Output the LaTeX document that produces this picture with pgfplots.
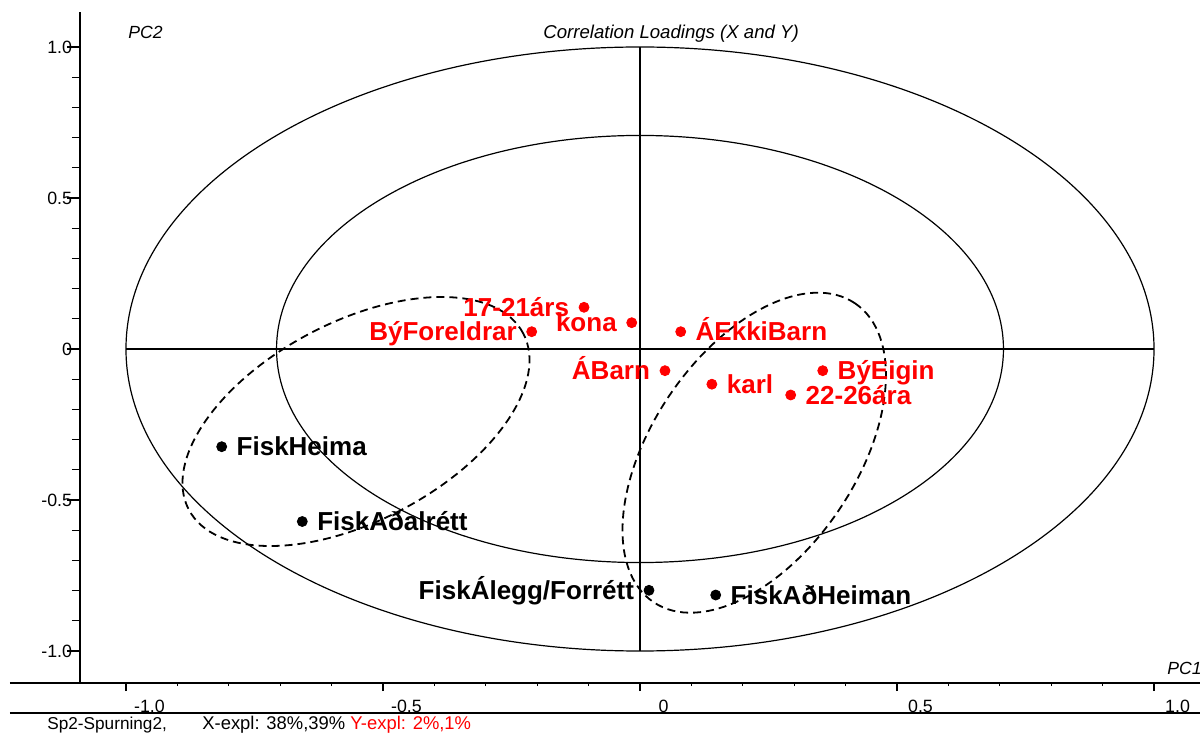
\documentclass[border=0pt]{standalone}
\usepackage{fontspec}
\setmainfont{Liberation Sans}
\usepackage{pgfplots}
\pgfplotsset{compat=1.18}
\definecolor{plsred}{RGB}{255,0,0}

\begin{document}
\begin{tikzpicture}
\begin{axis}[
    scale only axis,
    width=560pt, height=335.5pt,
    xmin=-1.0895, xmax=1.0895,
    ymin=-1.106, ymax=1.1159,
    axis x line*=bottom, axis y line*=left,
    axis line style={line width=0.7pt},
    clip=false,
    xtick={-1,-0.5,0,0.5,1}, xticklabels={-1.0,-0.5,0,0.5,1.0},
    ytick={-1,-0.5,0,0.5,1}, yticklabels={-1.0,-0.5,0,0.5,1.0},
    minor xtick={-0.9,-0.8,-0.7,-0.6,-0.4,-0.3,-0.2,-0.1,0.1,0.2,0.3,0.4,0.6,0.7,0.8,0.9},
    minor ytick={-0.9,-0.8,-0.7,-0.6,-0.4,-0.3,-0.2,-0.1,0.1,0.2,0.3,0.4,0.6,0.7,0.8,0.9},
    tick align=outside,
    tick style={line width=0.6pt, black},
    xtick style={/pgfplots/major tick length=4pt, /pgfplots/minor tick length=1.5pt},
    ytick style={/pgfplots/major tick length=6.5pt, /pgfplots/minor tick length=4pt},
    tick label style={font=\fontsize{8.9}{10}\selectfont, inner sep=0pt},
    xticklabel style={anchor=north, xshift=11.75pt, yshift=-4pt},
    yticklabel style={anchor=east, xshift=0.5pt},
]
% reference circles and zero lines
\draw[line width=0.6pt] (axis cs:0,0) ellipse [x radius=1, y radius=1];
\draw[line width=0.6pt] (axis cs:0,0) ellipse [x radius=0.7071, y radius=0.7071];
\draw[line width=0.6pt] (axis cs:-1,0) -- (axis cs:1,0);
\draw[line width=0.6pt] (axis cs:0,-1) -- (axis cs:0,1);

% dashed group ellipses
\draw[line width=0.9pt, dash pattern=on 4pt off 2.5pt,
      rotate around={27.8:(axis cs:-0.5525,-0.2401)}]
  (axis cs:-0.5525,-0.2401) ellipse [x radius=94.5pt, y radius=49.7pt];
\draw[line width=0.9pt, dash pattern=on 4pt off 2.5pt,
      rotate around={56.0:(axis cs:0.2222,-0.3434)}]
  (axis cs:0.2222,-0.3434) ellipse [x radius=90.1pt, y radius=51.15pt];

% Y variables, label on the left
\addplot[only marks, mark=*, mark size=2.5pt, color=plsred,
  nodes near coords, point meta=explicit symbolic,
  every node near coord/.style={anchor=base east, xshift=-7.3pt, yshift=-4.65pt,
    inner sep=0pt, font=\fontsize{13}{15}\selectfont\bfseries, text=plsred}]
  coordinates {
    (-0.1089,0.1381) [17-21árs]
    (-0.0161,0.0871) [kona]
    (-0.2107,0.0573) [BýForeldrar]
    (0.0486,-0.0718) [ÁBarn]
};
% Y variables, label on the right
\addplot[only marks, mark=*, mark size=2.5pt, color=plsred,
  nodes near coords, point meta=explicit symbolic,
  every node near coord/.style={anchor=base west, xshift=7.3pt, yshift=-4.65pt,
    inner sep=0pt, font=\fontsize{13}{15}\selectfont\bfseries, text=plsred}]
  coordinates {
    (0.0792,0.0573) [ÁEkkiBarn]
    (0.1398,-0.1166) [karl]
    (0.3555,-0.0718) [BýEigin]
    (0.2932,-0.1523) [22-26ára]
};
% X variables
\addplot[only marks, mark=*, mark size=2.5pt, color=black,
  nodes near coords, point meta=explicit symbolic,
  every node near coord/.style={anchor=base west, xshift=7.3pt, yshift=-4.65pt,
    inner sep=0pt, font=\fontsize{13}{15}\selectfont\bfseries, text=black}]
  coordinates {
    (-0.8138,-0.3235) [FiskHeima]
    (-0.6570,-0.5712) [FiskAðalrétt]
    (0.1473,-0.8146) [FiskAðHeiman]
};
\addplot[only marks, mark=*, mark size=2.5pt, color=black,
  nodes near coords, point meta=explicit symbolic,
  every node near coord/.style={anchor=base east, xshift=-7.3pt, yshift=-4.65pt,
    inner sep=0pt, font=\fontsize{13}{15}\selectfont\bfseries, text=black}]
  coordinates {
    (0.0175,-0.7990) [FiskÁlegg/Forrétt]
};

% frame extras and captions
\draw[line width=0.7pt] (axis cs:-1.2257,-1.106) -- (axis cs:-1.0895,-1.106);
\draw[line width=0.9pt] (axis cs:-1.2257,-1.2053) -- (axis cs:1.0895,-1.2053);
\node[anchor=base west, inner sep=0pt, font=\fontsize{9.3}{11}\selectfont\itshape]
  at (axis cs:-0.1887,1.0288) {Correlation Loadings (X and Y)};
\node[anchor=base west, inner sep=0pt, font=\fontsize{8.8}{10}\selectfont\itshape]
  at (axis cs:-0.9961,1.0265) {PC2};
\node[anchor=base west, inner sep=0pt, font=\fontsize{8.8}{10}\selectfont\itshape]
  at (axis cs:1.0253,-1.0772) {PC1};
\node[anchor=base west, inner sep=0pt, font=\fontsize{8.6}{10}\selectfont]
  at (axis cs:-1.1537,-1.2583) {Sp2-Spurning2,};
\node[anchor=base west, inner sep=0pt, font=\fontsize{9.2}{10}\selectfont]
  at (axis cs:-0.8521,-1.2583) {X-expl: 38\%,39\%};
\node[anchor=base west, inner sep=0pt, font=\fontsize{9.2}{10}\selectfont, text=plsred]
  at (axis cs:-0.5642,-1.2583) {Y-expl: 2\%,1\%};

% picture bounds
\path (axis cs:-1.2451,-1.2815) rectangle (axis cs:1.0953,1.1556);
\end{axis}
\end{tikzpicture}
\end{document}
